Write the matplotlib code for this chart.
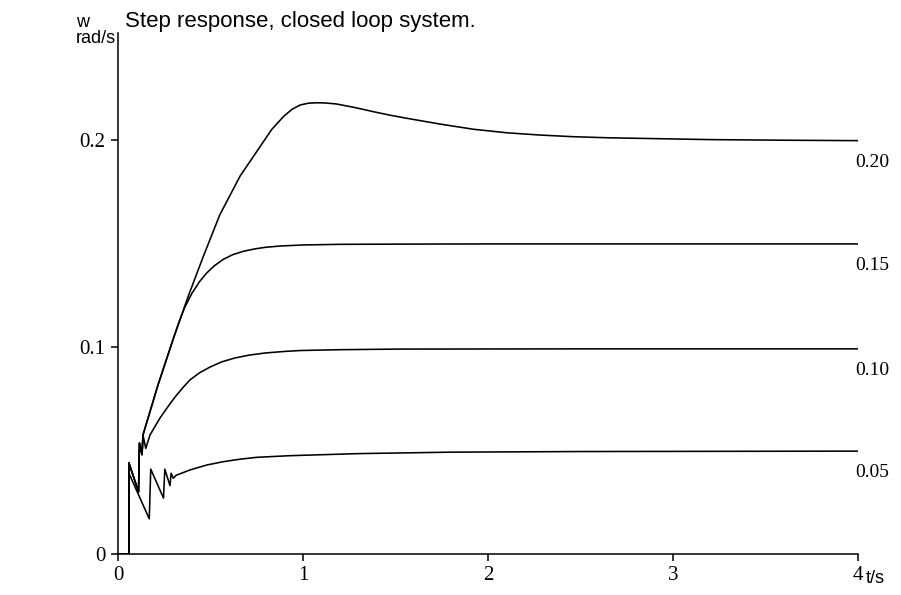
import matplotlib
matplotlib.use("Agg")
import matplotlib.pyplot as plt

# ---- data ----
t_020 = [0, 0.059, 0.059, 0.111, 0.116, 0.130, 0.135, 0.216, 0.30, 0.33, 0.38, 0.46, 0.55, 0.66,
         0.768, 0.83, 0.894, 0.94, 0.984, 1.03, 1.074, 1.12, 1.182, 1.28, 1.38, 1.47, 1.561,
         1.741, 1.921, 2.101, 2.281, 2.461, 2.642, 2.822, 3.2, 3.6, 4.0]
w_020 = [0, 0, 0.044, 0.030, 0.0536, 0.048, 0.0575, 0.0816, 0.1043, 0.1120, 0.1246, 0.1435, 0.1638,
         0.1826, 0.1968, 0.2050, 0.2113, 0.2148, 0.2169, 0.2178, 0.2180, 0.2179, 0.2174, 0.2157,
         0.2137, 0.2120, 0.2105, 0.2077, 0.2052, 0.2035, 0.2024, 0.2016, 0.2011, 0.2008, 0.2002,
         0.1999, 0.1997]

t_015 = [0, 0.059, 0.059, 0.111, 0.116, 0.130, 0.135, 0.216, 0.30, 0.33, 0.36, 0.40, 0.44, 0.48,
         0.52, 0.57, 0.62, 0.68, 0.74, 0.80, 0.88, 1.0, 1.2, 1.5, 2.0, 3.0, 4.0]
w_015 = [0, 0, 0.044, 0.030, 0.0536, 0.048, 0.0575, 0.0816, 0.1043, 0.1120, 0.1190, 0.1260, 0.1315,
         0.1358, 0.1392, 0.1424, 0.1446, 0.1463, 0.1474, 0.1482, 0.1488, 0.1493, 0.1496, 0.1497,
         0.1498, 0.1498, 0.1498]

t_010 = [0, 0.059, 0.059, 0.111, 0.116, 0.130, 0.135, 0.150, 0.173, 0.227, 0.27, 0.308, 0.35, 0.389,
         0.44, 0.497, 0.56, 0.632, 0.71, 0.795, 0.89, 0.984, 1.2, 1.524, 2.5, 4.0]
w_010 = [0, 0, 0.044, 0.030, 0.0536, 0.048, 0.0575, 0.051, 0.0575, 0.0657, 0.0712, 0.0758, 0.0803,
         0.0841, 0.0875, 0.0903, 0.0928, 0.0947, 0.0961, 0.0971, 0.0978, 0.0983, 0.0987, 0.0990,
         0.0991, 0.0991]

t_005 = [0, 0.059, 0.059, 0.169, 0.177, 0.246, 0.253, 0.281, 0.287, 0.299, 0.314, 0.389,
         0.48, 0.569, 0.66, 0.749, 0.93, 1.3, 1.8, 2.5, 4.0]
w_005 = [0, 0, 0.039, 0.017, 0.041, 0.027, 0.041, 0.033, 0.039, 0.0366, 0.038, 0.0406,
         0.0430, 0.0446, 0.0458, 0.0467, 0.0475, 0.0485, 0.0492, 0.0495, 0.0497]

curve_labels = ["0.20", "0.15", "0.10", "0.05"]
x_ticks = [0, 1, 2, 3, 4]
x_ticklabels = ["0", "1", "2", "3", "4"]
y_ticks = [0, 0.1, 0.2]
y_ticklabels = ["0", "0.1", "0.2"]

title = "Step response, closed loop system."
ylabel_lines = ["w", "rad/s"]
xlabel = "t/s"

# ---- figure ----
W, H = 901, 595
fig = plt.figure(figsize=(W / 100, H / 100), dpi=100)
ax = fig.add_axes([118 / W, 1 - 554 / H, (858 - 118) / W, (554 - 33) / H])

series = [(t_020, w_020), (t_015, w_015), (t_010, w_010), (t_005, w_005)]
for (t, w), lab in zip(series, curve_labels):
    ax.plot(t, w, color="black", lw=1.15, solid_joinstyle="round")
    ax.text(3.985, w[-1] - 0.0105, lab, ha="left", va="center",
            family="Liberation Serif", fontsize=14, clip_on=False)

ax.set_xlim(0, 4)
ax.set_ylim(0, 0.2517)
for s in ("top", "right"):
    ax.spines[s].set_visible(False)
for s in ("left", "bottom"):
    ax.spines[s].set_linewidth(1.1)

ax.set_xticks(x_ticks)
ax.set_xticklabels(x_ticklabels, family="Liberation Serif", fontsize=15)
ax.set_yticks(y_ticks)
ax.set_yticklabels(y_ticklabels, family="Liberation Serif", fontsize=15)
ax.tick_params(direction="out", length=5, width=1.1, pad=4)

fig.text(125 / W, 1 - 27 / H, title, family="Liberation Sans", fontsize=16,
         ha="left", va="baseline")
fig.text(76 / W, 1 - 27 / H, ylabel_lines[0], family="Liberation Sans", fontsize=13,
         ha="left", va="baseline")
fig.text(76 / W, 1 - 43 / H, ylabel_lines[1], family="Liberation Sans", fontsize=13,
         ha="left", va="baseline")
fig.text(866 / W, 1 - 583 / H, xlabel, family="Liberation Sans", fontsize=13,
         ha="left", va="baseline")

fig.savefig("out.png", dpi=100)
